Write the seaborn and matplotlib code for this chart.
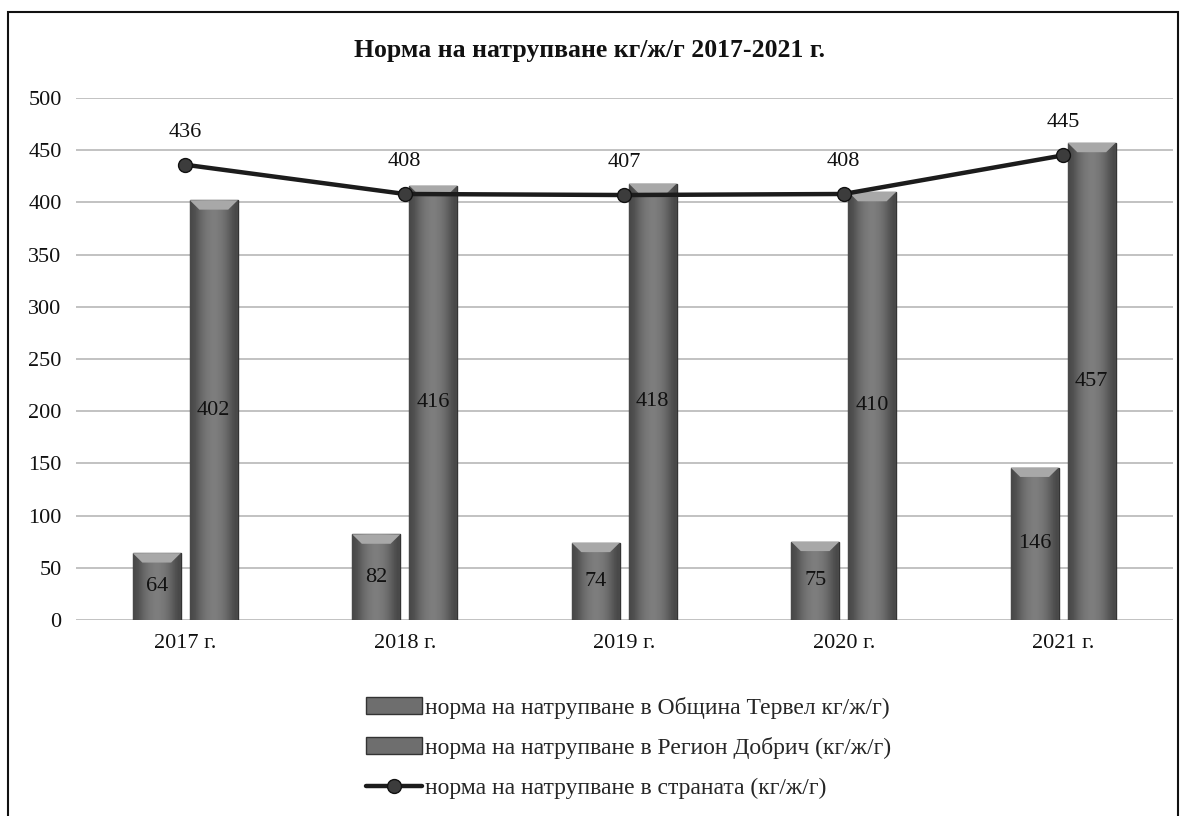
import numpy as np
import pandas as pd
import matplotlib
matplotlib.use("Agg")
import matplotlib.pyplot as plt
import seaborn as sns
from matplotlib.patches import Rectangle, Patch
from matplotlib.lines import Line2D

years = ["2017 г.", "2018 г.", "2019 г.", "2020 г.", "2021 г."]
tervel = [64, 82, 74, 75, 146]
dobrich = [402, 416, 418, 410, 457]
country = [436, 408, 407, 408, 445]

lbl_tervel = "норма на натрупване в Община Тервел кг/ж/г)"
lbl_dobrich = "норма на натрупване в Регион Добрич (кг/ж/г)"
lbl_country = "норма на натрупване в страната (кг/ж/г)"

df = pd.DataFrame({
    "year": years * 2,
    "value": tervel + dobrich,
    "series": [lbl_tervel] * 5 + [lbl_dobrich] * 5,
})

sns.set_style("white")
plt.rcParams["font.family"] = ["Liberation Serif", "DejaVu Serif"]

fig = plt.figure(figsize=(11.8, 8.16), dpi=100)
ax = fig.add_axes([0.064, 0.2402, 0.93, 0.6398])

sns.barplot(data=df, x="year", y="value", hue="series",
            palette=["#6e6e6e", "#6e6e6e"], width=0.52, gap=0.16,
            edgecolor="#333333", linewidth=1.0, legend=False, ax=ax)

# shaded look for the bars
grad = np.array([[0.28, 0.40, 0.47, 0.5, 0.47, 0.40, 0.28]])
for bar in ax.patches:
    x0, y0 = bar.get_x(), bar.get_y()
    w, h = bar.get_width(), bar.get_height()
    im = ax.imshow(grad, cmap="gray", vmin=0, vmax=1, aspect="auto",
                   extent=[x0, x0 + w, y0, y0 + h], zorder=bar.get_zorder() + 0.1,
                   interpolation="bicubic")
    im.set_clip_path(bar)
    # light bevel at the top
    ax.fill([x0, x0 + w, x0 + w * 0.8, x0 + w * 0.2],
            [y0 + h, y0 + h, y0 + h - 9, y0 + h - 9],
            color="#a8a8a8", zorder=bar.get_zorder() + 0.2, lw=0)
    ax.text(x0 + w / 2, y0 + h / 2, f"{h:.0f}", ha="center", va="center",
            fontsize=16, color="#111111", zorder=6)

xs = np.arange(len(years))
ax.plot(xs, country, color="#1c1c1c", lw=3.2, marker="o", markersize=10,
        markerfacecolor="#3c3c3c", markeredgecolor="#111111", zorder=7)
for x, v in zip(xs, country):
    ax.text(x, v + 22, str(v), ha="center", va="bottom", fontsize=16,
            color="#111111", zorder=8)

ax.set_xlim(-0.5, 4.5)
ax.set_ylim(0, 500)
ax.set_yticks(range(0, 501, 50))
ax.yaxis.grid(True, color="#b8b8b8", lw=1.2)
ax.set_axisbelow(True)
for s in ax.spines.values():
    s.set_visible(False)
ax.tick_params(axis="both", labelsize=16, length=0, pad=10, colors="#111111")
ax.set_xlabel("")
ax.set_ylabel("")

fig.text(0.5, 0.938, "Норма на натрупване кг/ж/г 2017-2021 г.", ha="center",
         va="center", fontsize=18.5, fontweight="bold", color="#111111")

handles = [
    Patch(facecolor="#6e6e6e", edgecolor="#333333"),
    Patch(facecolor="#6e6e6e", edgecolor="#333333"),
    Line2D([0], [0], color="#1c1c1c", lw=3.2, marker="o", markersize=10,
           markerfacecolor="#3c3c3c", markeredgecolor="#111111"),
]
fig.legend(handles, [lbl_tervel, lbl_dobrich, lbl_country],
           loc="upper left", bbox_to_anchor=(0.302, 0.158), frameon=False,
           fontsize=17, handlelength=2.4, handletextpad=0.1,
           labelspacing=0.78, borderaxespad=0)

fig.patches.append(Rectangle((0.007, -0.01), 0.991, 0.995,
                             transform=fig.transFigure, fill=False,
                             edgecolor="#111111", lw=1.5))

fig.savefig("out.png", dpi=100)
